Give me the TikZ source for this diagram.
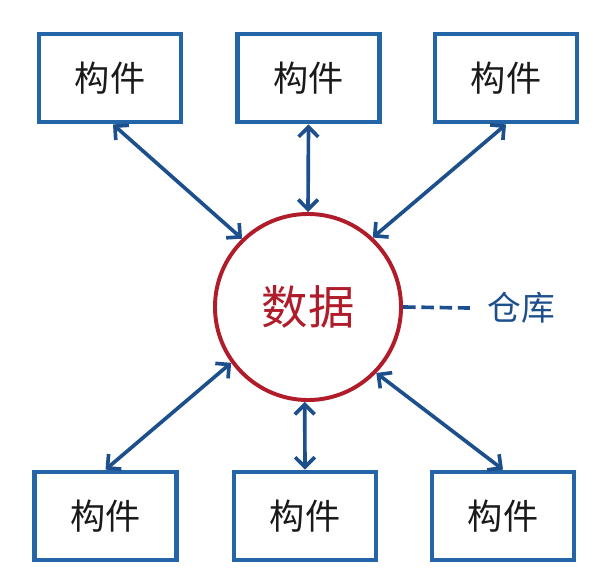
\documentclass[tikz,border=0pt]{standalone}
\usepackage{fontspec}
\setmainfont{Noto Sans CJK SC}
\usepackage{tikz}
\usetikzlibrary{arrows.meta, positioning}
\usepackage{xcolor}
\definecolor{mBox}{HTML}{2465A8}
\definecolor{mLink}{HTML}{1C4F8C}
\definecolor{mRed}{HTML}{B01C2A}
\definecolor{mInk}{HTML}{1A1A1A}

\begin{document}
\begin{tikzpicture}[x=0.025cm, y=-0.025cm,
  part/.style={draw=mBox, line width=3.4pt, minimum width=3.55cm, minimum height=2.2cm,
               font=\fontsize{25}{25}\selectfont, text=mInk},
  link/.style={{Straight Barb[length=7pt, width=14pt]}-{Straight Barb[length=7pt, width=14pt]},
               mLink, line width=2.6pt}]
  \useasboundingbox (0,0) rectangle (606,580);
  % the data store in the middle
  \node[circle, draw=mRed, line width=2.8pt, minimum size=4.65cm, text=mRed,
        font=\fontsize{33}{33}\selectfont] (data) at (308,307) {数据};
  \node[text=mLink, inner sep=0pt, font=\fontsize{24}{24}\selectfont] (store) at (521,308) {仓库};
  \draw[mLink, line width=2.6pt, dash pattern=on 9pt off 4pt] (data.east) -- ([xshift=-17*0.025cm]store.west);
  % components, top row and bottom row
  \node[part] (k1) at (110,78)   {构件};
  \node[part] (k2) at (308.5,78) {构件};
  \node[part] (k3) at (506,78)   {构件};
  \node[part] (k4) at (105.5,516) {构件};
  \node[part] (k5) at (305,516)   {构件};
  \node[part] (k6) at (503,516)   {构件};
  % two-way links
  \draw[link] ([xshift=3*0.025cm]k1.south) -- (data.134);
  \draw[link] (k2.south) -- (data.north);
  \draw[link] (k3.south) -- (data.47);
  \draw[link] (k4.north) -- (data.216);
  \draw[link] (k5.north) -- (data.268);
  \draw[link] (k6.north) -- (data.316);
\end{tikzpicture}
\end{document}
